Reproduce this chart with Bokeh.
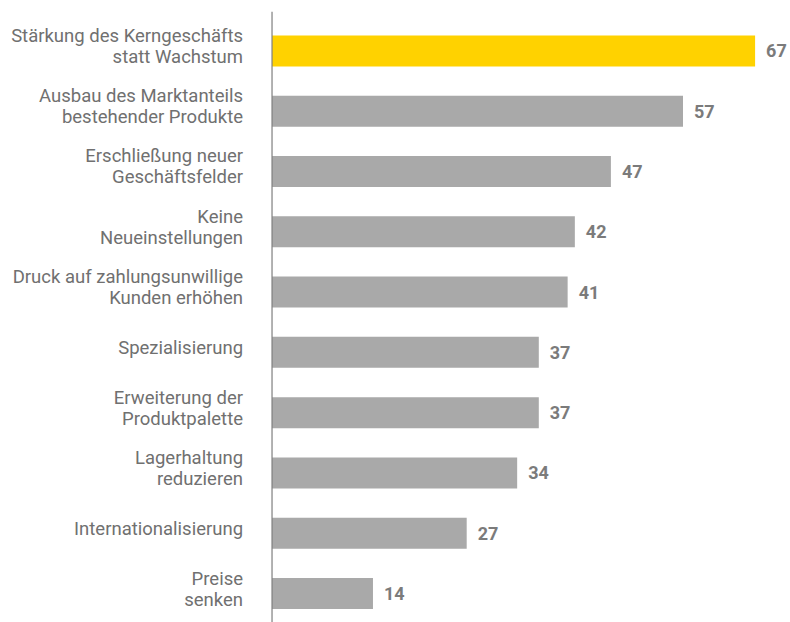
from bokeh.plotting import figure
from bokeh.models import ColumnDataSource, Range1d, LabelSet, Span
from bokeh.core.properties import value
from bokeh.embed import file_html
from bokeh.resources import INLINE

categories = [
    "Stärkung des Kerngeschäfts\nstatt Wachstum",
    "Ausbau des Marktanteils\nbestehender Produkte",
    "Erschließung neuer\nGeschäftsfelder",
    "Keine\nNeueinstellungen",
    "Druck auf zahlungsunwillige\nKunden erhöhen",
    "Spezialisierung",
    "Erweiterung der\nProduktpalette",
    "Lagerhaltung\nreduzieren",
    "Internationalisierung",
    "Preise\nsenken",
]
values = [67, 57, 47, 42, 41, 37, 37, 34, 27, 14]
colors = ["#FFD200"] + ["#A9A9A9"] * 9

pos = list(range(len(categories)))
line1, line2, off1, off2 = [], [], [], []
for c in categories:
    parts = c.split("\n")
    if len(parts) == 2:
        line1.append(parts[0]); line2.append(parts[1])
        off1.append(15); off2.append(-6)
    else:
        line1.append(parts[0]); line2.append("")
        off1.append(4); off2.append(0)

src = ColumnDataSource(dict(y=pos, v=values, c=colors, l1=line1, l2=line2, o1=off1, o2=off2,
                            x0=[0] * len(values), lbl=[str(v) for v in values]))

p = figure(width=790, height=622, output_backend="svg", toolbar_location=None,
           x_range=Range1d(-37.66, 71.91), y_range=Range1d(9.481, -0.6535),
           min_border_left=0, min_border_right=0, min_border_top=11, min_border_bottom=0)
p.outline_line_color = None
p.grid.visible = False
p.axis.visible = False
p.background_fill_color = "white"
p.border_fill_color = "white"

p.hbar(y="y", left="x0", right="v", height=0.514, fill_color="c", line_color=None, source=src)

p.add_layout(Span(location=0, dimension="height", line_color="#7f7f7f", line_width=1.2))

for txt, off in (("l1", "o1"), ("l2", "o2")):
    p.add_layout(LabelSet(x="x0", y="y", text=txt, source=src, x_offset=-29, y_offset=off,
                          text_align="right", text_baseline="middle",
                          text_font=value("Roboto"), text_font_size="18.5px",
                          text_color="#707070"))

val_labels = LabelSet(x="v", y="y", text="lbl", source=src, x_offset=11, y_offset=0,
                      text_align="left", text_baseline="middle",
                      text_font=value("Roboto"), text_font_size="18px", text_font_style="bold",
                      text_color="#7b7b7b")
p.add_layout(val_labels)

open("out.html", "w").write(file_html(p, INLINE))
